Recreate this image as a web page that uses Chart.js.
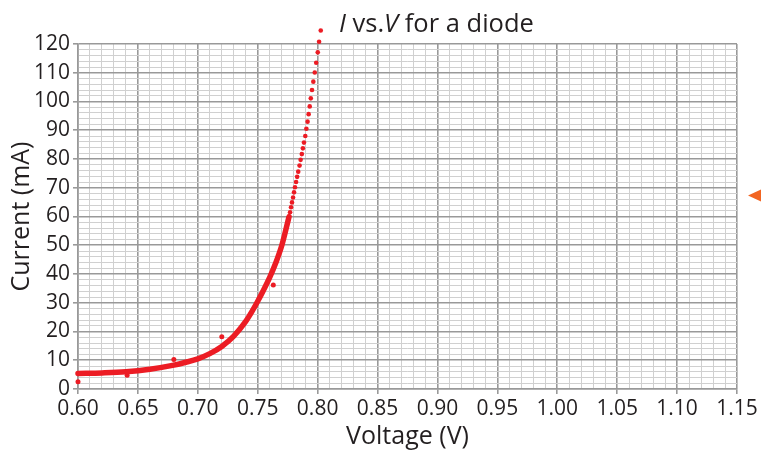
<!DOCTYPE html>
<html>
<head>
<meta charset="utf-8">
<script src="https://cdn.jsdelivr.net/npm/chart.js@4/dist/chart.umd.min.js"></script>
<style>
  html, body { margin: 0; padding: 0; background: #ffffff; }
  #wrap { width: 761px; height: 452px; position: relative; }
</style>
</head>
<body>
<div id="wrap"><canvas id="chart" width="761" height="452"></canvas></div>
<script>
// Measured diode points (voltage in V, current in mA)
const measuredV = [0.600, 0.641, 0.680, 0.720, 0.763];
const measuredI = [2.5, 4.8, 10.3, 18.2, 36.2];

// Fitted curve, dense low-current part (plotted points merge into a band)
const fitBandV = [0.600, 0.620, 0.640, 0.660, 0.680, 0.690, 0.700, 0.710, 0.720, 0.730,
                  0.740, 0.745, 0.750, 0.755, 0.760, 0.765, 0.770, 0.774, 0.7761];
const fitBandI = [5.4, 5.6, 6.0, 6.9, 8.3, 9.3, 10.5, 12.3, 14.8, 18.4,
                  23.5, 26.8, 30.5, 34.5, 38.8, 43.8, 49.8, 56.3, 59.9];

// Fitted curve, steep part where the individual points separate
const fitDotsV = [0.7761, 0.7770, 0.7778, 0.7786, 0.7795, 0.7803, 0.7811, 0.7820, 0.7829, 0.7838,
                  0.7849, 0.7858, 0.7868, 0.7877, 0.7886, 0.7897, 0.7906, 0.7916, 0.7925, 0.7934,
                  0.7943, 0.7953, 0.7964, 0.7976, 0.7988, 0.8001, 0.8012, 0.8026];
const fitDotsI = [59.9, 61.5, 63.2, 64.9, 66.6, 68.4, 70.2, 72.0, 73.8, 75.6,
                  77.7, 79.7, 81.7, 83.7, 85.7, 88.0, 90.5, 93.0, 95.6, 98.3,
                  101.1, 104.0, 106.9, 110.1, 113.5, 117.1, 120.8, 124.7];

// Axis ranges and steps
const xMin = 0.60, xMax = 1.15, xMinorStep = 0.01, xMajorEvery = 5;
const yMin = 0, yMax = 120, yMinorStep = 2, yMajorEvery = 5;

const RED = '#ec1c24';
const MAJOR = '#999999';
const MINOR = '#d0d0d0';
const TEXT = '#231f20';
const FONT = '"Open Sans", "Noto Sans", sans-serif';

const toXY = (xs, ys) => xs.map((x, i) => ({ x: x, y: ys[i] }));

const isMajorX = v => Math.round(v / xMinorStep) % xMajorEvery === 0;
const isMajorY = v => Math.round(v / yMinorStep) % yMajorEvery === 0;

// Let the scatter points run past the top of the plot area
const overflowPlugin = {
  id: 'overflowPoints',
  beforeDatasetDraw(chart) {
    chart.$savedArea = chart.chartArea;
    chart.chartArea = Object.assign({}, chart.chartArea, { top: 0 });
  },
  afterDatasetDraw(chart) {
    if (chart.$savedArea) chart.chartArea = chart.$savedArea;
  }
};

// Title with italic quantity symbols
const titlePlugin = {
  id: 'mixedTitle',
  afterDraw(chart) {
    const ctx = chart.ctx;
    const parts = [
      { t: 'I', it: true },
      { t: ' vs.', it: false },
      { t: 'V', it: true },
      { t: ' for a diode', it: false }
    ];
    ctx.save();
    ctx.fillStyle = TEXT;
    ctx.textBaseline = 'alphabetic';
    let x = 339;
    const y = 32;
    for (const p of parts) {
      ctx.font = (p.it ? 'italic ' : '') + '25.5px ' + FONT;
      ctx.fillText(p.t, x, y);
      x += ctx.measureText(p.t).width;
    }
    ctx.restore();
  }
};

// Small margin marker at the right edge
const markerPlugin = {
  id: 'edgeMarker',
  afterDraw(chart) {
    const ctx = chart.ctx;
    ctx.save();
    ctx.fillStyle = '#f26522';
    ctx.beginPath();
    ctx.moveTo(748, 195.5);
    ctx.lineTo(761, 189.5);
    ctx.lineTo(761, 201.5);
    ctx.closePath();
    ctx.fill();
    ctx.restore();
  }
};

new Chart(document.getElementById('chart'), {
  type: 'scatter',
  data: {
    datasets: [
      {
        label: 'Fit (band)',
        data: toXY(fitBandV, fitBandI),
        showLine: true,
        borderColor: RED,
        borderWidth: 5.5,
        pointRadius: 0,
        cubicInterpolationMode: 'monotone',
        borderCapStyle: 'round',
        clip: false
      },
      {
        label: 'Fit (points)',
        data: toXY(fitDotsV, fitDotsI),
        showLine: false,
        backgroundColor: RED,
        borderWidth: 0,
        pointRadius: 2.3,
        clip: false
      },
      {
        label: 'Measured',
        data: toXY(measuredV, measuredI),
        showLine: false,
        backgroundColor: RED,
        borderWidth: 0,
        pointRadius: 2.5,
        clip: false
      }
    ]
  },
  options: {
    responsive: false,
    animation: false,
    layout: { padding: { top: 44, right: 24, left: 0, bottom: 0 } },
    plugins: {
      legend: { display: false },
      tooltip: { enabled: false },
      title: { display: false }
    },
    scales: {
      x: {
        type: 'linear',
        min: xMin,
        max: xMax,
        afterFit(scale) { scale.height = 63; },
        border: { color: MAJOR, width: 1.6 },
        grid: {
          color: c => isMajorX(c.tick.value) ? MAJOR : MINOR,
          lineWidth: c => isMajorX(c.tick.value) ? 1.6 : 1,
          tickColor: c => isMajorX(c.tick.value) ? MAJOR : 'rgba(0,0,0,0)',
          tickLength: 5,
          drawTicks: true
        },
        ticks: {
          stepSize: xMinorStep,
          autoSkip: false,
          maxRotation: 0,
          padding: 2,
          color: TEXT,
          font: { family: FONT, size: 21 },
          callback: v => isMajorX(v) ? v.toFixed(2) : ''
        },
        title: {
          display: true,
          text: 'Voltage (V)',
          color: TEXT,
          font: { family: FONT, size: 25 },
          padding: { top: 0, bottom: 0 }
        }
      },
      y: {
        type: 'linear',
        min: yMin,
        max: yMax,
        afterFit(scale) { scale.width = 78; },
        border: { color: MAJOR, width: 1.6 },
        grid: {
          color: c => isMajorY(c.tick.value) ? MAJOR : MINOR,
          lineWidth: c => isMajorY(c.tick.value) ? 1.6 : 1,
          tickColor: c => isMajorY(c.tick.value) ? MAJOR : 'rgba(0,0,0,0)',
          tickLength: 5,
          drawTicks: true
        },
        ticks: {
          stepSize: yMinorStep,
          autoSkip: false,
          padding: 3,
          color: TEXT,
          font: { family: FONT, size: 21 },
          callback: v => isMajorY(v) ? String(Math.round(v)) : ''
        },
        title: {
          display: true,
          text: 'Current (mA)',
          color: TEXT,
          font: { family: FONT, size: 25 },
          padding: { top: 7, bottom: 0 }
        }
      }
    }
  },
  plugins: [overflowPlugin, titlePlugin, markerPlugin]
});
</script>
</body>
</html>
